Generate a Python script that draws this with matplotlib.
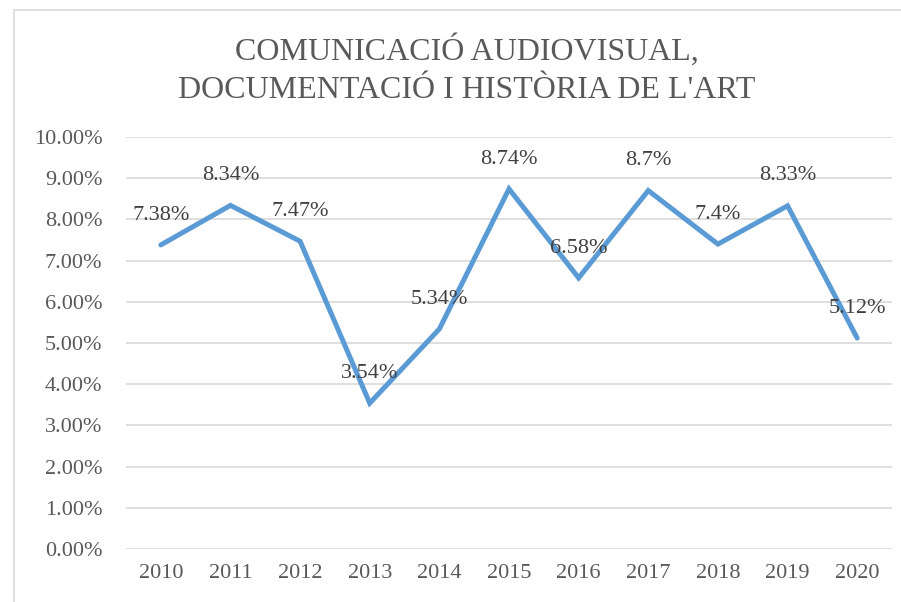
import matplotlib.pyplot as plt
from matplotlib.patches import Rectangle

years = ["2010", "2011", "2012", "2013", "2014", "2015", "2016", "2017", "2018", "2019", "2020"]
values = [7.38, 8.34, 7.47, 3.54, 5.34, 8.74, 6.58, 8.70, 7.40, 8.33, 5.12]
point_labels = ["7.38%", "8.34%", "7.47%", "3.54%", "5.34%", "8.74%", "6.58%", "8.7%", "7.4%", "8.33%", "5.12%"]
y_ticks = [0, 1, 2, 3, 4, 5, 6, 7, 8, 9, 10]

plt.rcParams['font.family'] = ['Liberation Serif', 'DejaVu Serif']

fig = plt.figure(figsize=(9.01, 6.02), dpi=100)
ax = fig.add_axes([126 / 901, 1 - 549 / 602, (892 - 126) / 901, (549 - 137) / 602])

# chart frame (only left and top edges show in the crop)
fig.patches.append(Rectangle((14 / 901, -0.1), 1.2, 1 - 10 / 602 + 0.1,
                             transform=fig.transFigure, fill=False,
                             edgecolor="#d9d9d9", linewidth=1.2))

x = list(range(len(years)))
ax.plot(x, values, color="#5b9bd5", linewidth=3.6, solid_capstyle="round",
        solid_joinstyle="miter", zorder=3)

for xi, v, lab in zip(x, values, point_labels):
    ax.annotate(lab, (xi, v), xytext=(0, 21.5), textcoords="offset points",
                ha="center", va="center", fontsize=16, color="#404040", zorder=4)

ax.set_xlim(-0.5, len(years) - 0.5)
ax.set_ylim(0, 10)
ax.set_yticks(y_ticks)
ax.set_yticklabels([f"{t:.2f}%" for t in y_ticks])
ax.set_xticks(x)
ax.set_xticklabels(years)
ax.yaxis.grid(True, color="#d9d9d9", linewidth=1.2)
ax.set_axisbelow(True)
for s in ax.spines.values():
    s.set_visible(False)
ax.tick_params(axis="both", length=0, labelsize=16, labelcolor="#595959")
ax.tick_params(axis="y", pad=17)
ax.tick_params(axis="x", pad=11)

fig.text(467 / 901, 1 - 69.5 / 602, "COMUNICACIÓ AUDIOVISUAL,\nDOCUMENTACIÓ I HISTÒRIA DE L'ART",
         ha="center", va="center", fontsize=23, color="#595959", linespacing=1.45)

fig.savefig("out.png", dpi=100)
